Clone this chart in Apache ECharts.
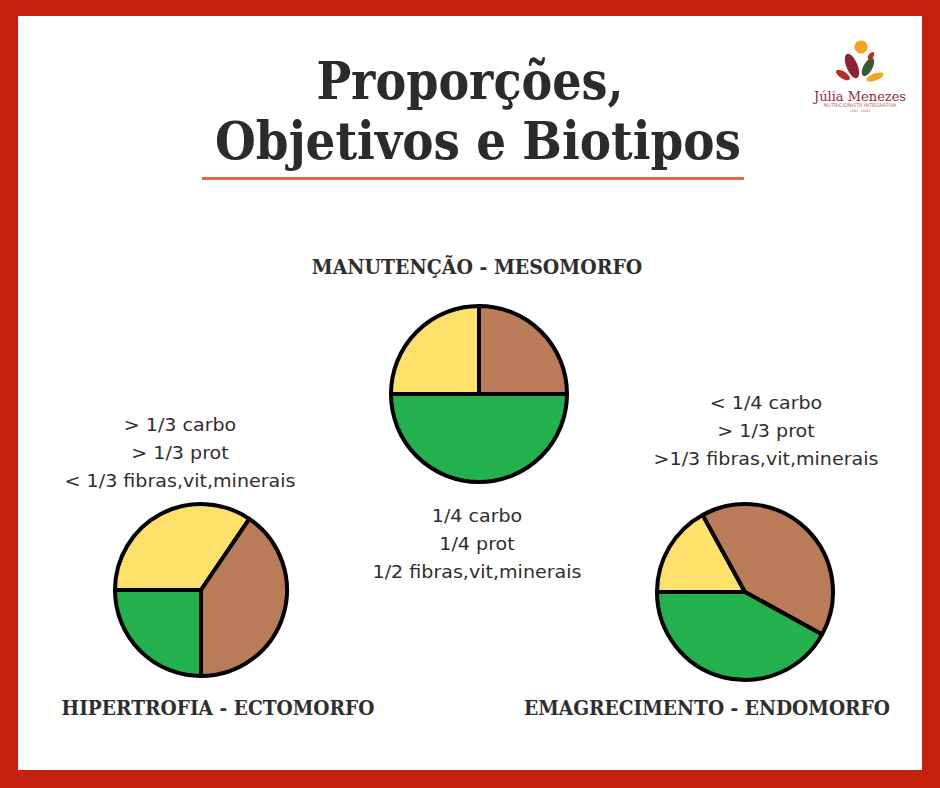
<!DOCTYPE html>
<html>
<head>
<meta charset="utf-8">
<script src="https://cdn.jsdelivr.net/npm/echarts@6/dist/echarts.min.js"></script>
<style>html,body{margin:0;padding:0;background:#fff;}#c{width:940px;height:788px;}</style>
</head>
<body>
<div id="c"></div>
<script>
// ---- data ----
const categories = ['carbo', 'prot', 'fibras,vit,minerais'];
const manutencao = [25, 25, 50];
const hipertrofia = [34.5, 40.5, 25];
const emagrecimento = [17, 41, 42];
const goals = ['MANUTENÇÃO - MESOMORFO', 'HIPERTROFIA - ECTOMORFO', 'EMAGRECIMENTO - ENDOMORFO'];
const notesManutencao = ['1/4 carbo', '1/4 prot', '1/2 fibras,vit,minerais'];
const notesHipertrofia = ['> 1/3 carbo', '> 1/3 prot', '< 1/3 fibras,vit,minerais'];
const notesEmagrecimento = ['< 1/4 carbo', '> 1/3 prot', '>1/3 fibras,vit,minerais'];
const titleLines = ['Proporções,', 'Objetivos e Biotipos'];

const colors = ['#FDE16B', '#B97B58', '#22B14C'];
const chart = echarts.init(document.getElementById('c'), null, {renderer: 'svg'});

function pie(name, values, cx, cy, r) {
  return {
    type: 'pie', name: name, center: [cx, cy], radius: [0, r],
    startAngle: 180, clockwise: true, silent: true,
    label: {show: false}, labelLine: {show: false},
    emphasis: {disabled: true},
    itemStyle: {borderColor: '#000', borderWidth: 4, borderJoin: 'round'},
    data: categories.map((c, i) => ({name: c, value: values[i], itemStyle: {color: colors[i]}}))
  };
}

const textColor = '#2e2e2e';
const bodyFont = '18px "DejaVu Sans"';
const labelFont = 'bold 21px "DejaVu Serif"';

function txt(t, x, y, font, color, extra) {
  return Object.assign({type: 'text', x: x, y: y, silent: true,
    style: {text: t, font: font, fill: color || textColor, align: 'center', verticalAlign: 'middle'}}, extra || {});
}
function noteBlock(lines, cx, y0) {
  return lines.map((l, i) => txt(l, cx, y0 + i * 28, bodyFont, textColor, {scaleX: 1.06}));
}
function leaf(x, y, rx, ry, rot, fill) {
  return {type: 'ellipse', x: x, y: y, rotation: rot, shape: {cx: 0, cy: 0, rx: rx, ry: ry}, style: {fill: fill}, silent: true};
}

const graphics = [
  {type: 'rect', shape: {x: 0, y: 0, width: 940, height: 788}, style: {fill: '#C6200F'}, silent: true, z: -10},
  {type: 'rect', shape: {x: 18, y: 16, width: 904, height: 754}, style: {fill: '#ffffff'}, silent: true, z: -9},
  txt(titleLines[0], 470, 80, 'bold 53px "DejaVu Serif"', '#2b2b2b', {scaleX: 0.87}),
  txt(titleLines[1], 478, 140, 'bold 53px "DejaVu Serif"', '#2b2b2b', {scaleX: 0.885}),
  {type: 'rect', shape: {x: 202, y: 177, width: 542, height: 3}, style: {fill: '#E0694B'}, silent: true},
  txt(goals[0], 477, 267, labelFont, textColor, {scaleX: 0.9}),
  txt(goals[1], 218, 708, labelFont, textColor, {scaleX: 0.887}),
  txt(goals[2], 707, 708, labelFont, textColor, {scaleX: 0.887}),
  ...noteBlock(notesManutencao, 477, 516),
  ...noteBlock(notesHipertrofia, 180, 425),
  ...noteBlock(notesEmagrecimento, 766, 403),
  // logo
  {type: 'circle', shape: {cx: 861, cy: 47, r: 6.5}, style: {fill: '#F2A51C'}, silent: true},
  leaf(852, 66, 5.5, 13, 0.4, '#8E2233'),
  leaf(868, 67, 4.5, 10, -0.5, '#3C5A2E'),
  leaf(843, 75, 3.5, 8, 1.0, '#B5302C'),
  leaf(875, 77, 3.5, 9, -1.2, '#F2A51C'),
  leaf(871, 56, 2.5, 4.5, -0.6, '#B5302C'),
  txt('Júlia Menezes', 860, 96, '13px "DejaVu Serif"', '#8E2B3A'),
  txt('NUTRICIONISTA INTEGRATIVA', 860, 105, '5px "DejaVu Sans"', '#B06A75'),
  txt('CRN3 · 00000', 860, 111, '3px "DejaVu Sans"', '#B06A75')
];

chart.setOption({
  animation: false,
  backgroundColor: '#fff',
  series: [
    pie('Manutenção', manutencao, 479, 394, 88),
    pie('Hipertrofia', hipertrofia, 201, 590, 86),
    pie('Emagrecimento', emagrecimento, 745, 592, 88)
  ],
  graphic: graphics
});
</script>
</body>
</html>
